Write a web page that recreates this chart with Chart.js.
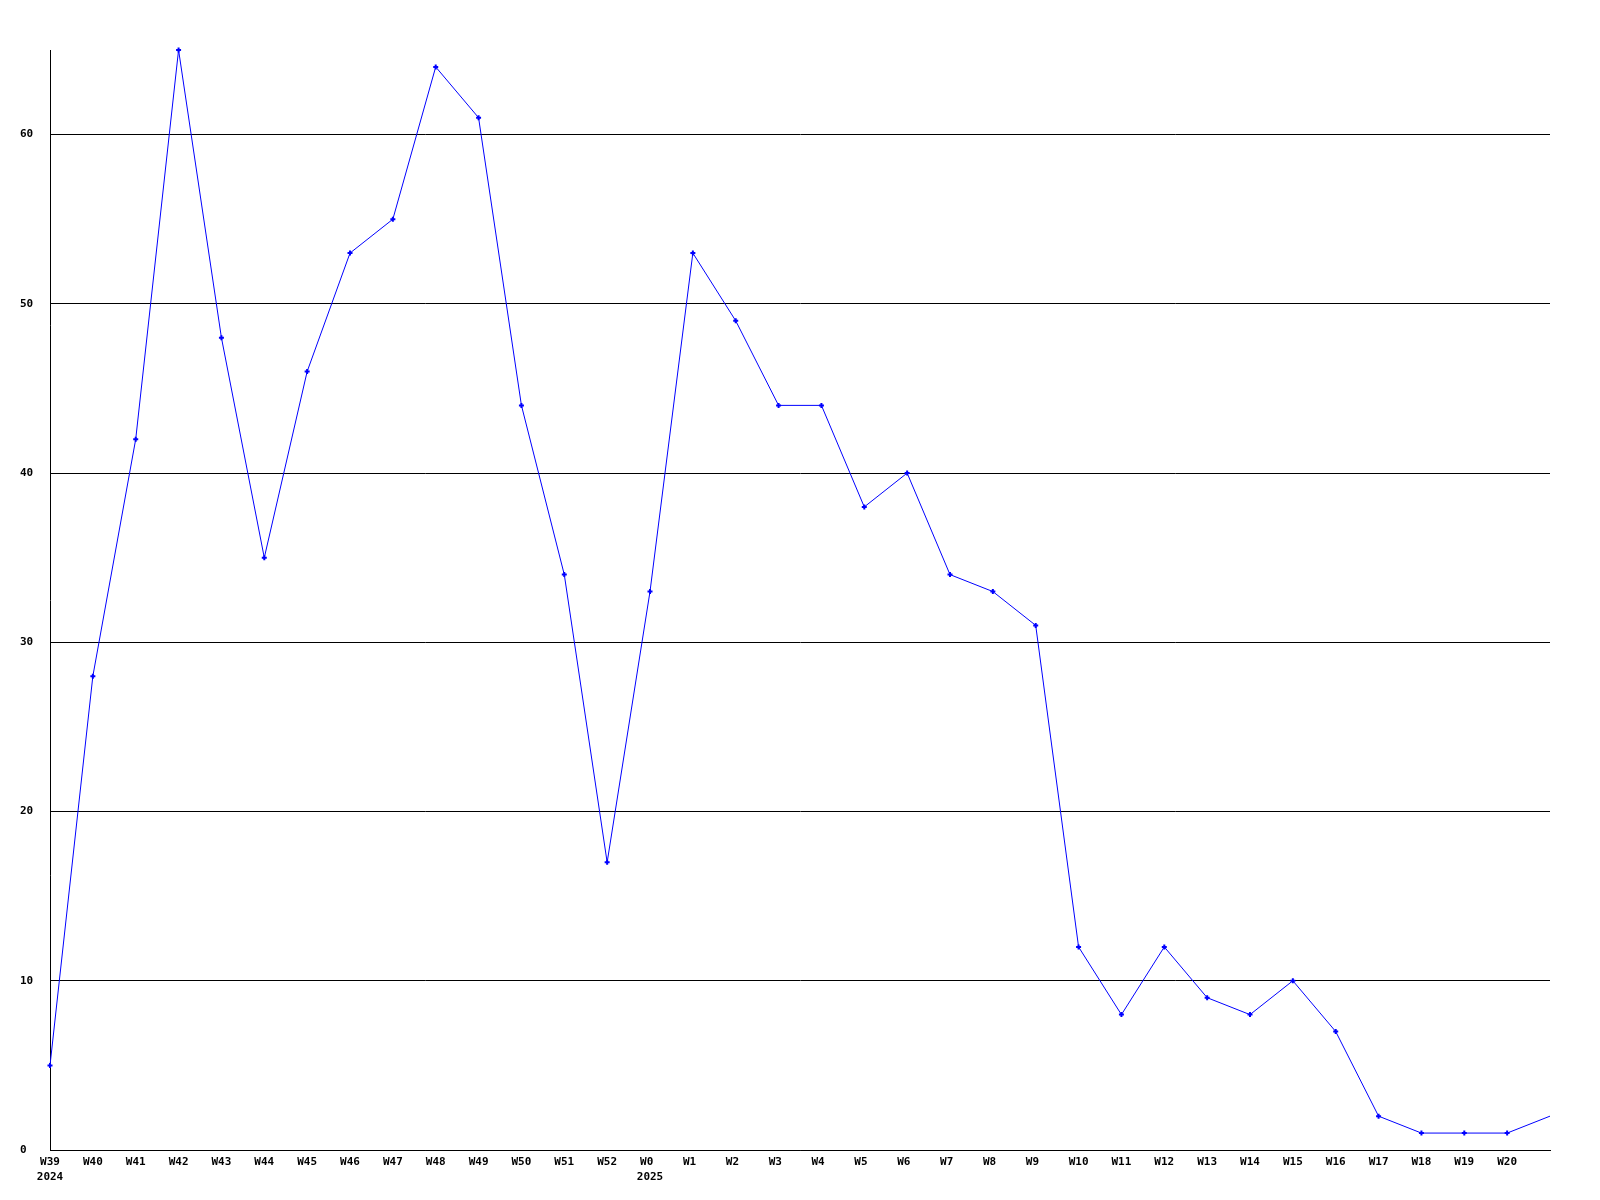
<!DOCTYPE html>
<html>
<head>
<meta charset="utf-8">
<script src="https://cdn.jsdelivr.net/npm/chart.js@4/dist/chart.umd.min.js"></script>
<style>
    html, body { margin: 0; padding: 0; background: #ffffff; }
    #chartBox { width: 1600px; height: 1200px; }
</style>
</head>
<body>
<div id="chartBox"><canvas id="weekChart" width="1600" height="1200"></canvas></div>
<script>
// weeks shown on the x axis (last one is unlabeled in the original)
const weeks = ['W39', 'W40', 'W41', 'W42', 'W43', 'W44', 'W45', 'W46', 'W47', 'W48', 'W49',
    'W50', 'W51', 'W52', 'W0', 'W1', 'W2', 'W3', 'W4', 'W5', 'W6', 'W7', 'W8', 'W9', 'W10',
    'W11', 'W12', 'W13', 'W14', 'W15', 'W16', 'W17', 'W18', 'W19', 'W20', ''];
// year shown under the first week of each year
const years = { 'W39': '2024', 'W0': '2025' };
const counts = [5, 28, 42, 65, 48, 35, 46, 53, 55, 64, 61,
    44, 34, 17, 33, 53, 49, 44, 44, 38, 40, 34, 33, 31, 12,
    8, 12, 9, 8, 10, 7, 2, 1, 1, 1, 2];
const yTicks = [0, 10, 20, 30, 40, 50, 60];
const yMax = 65;

const labelFont = { family: '"DejaVu Sans Mono", "Liberation Mono", monospace', size: 11, weight: 'bold', lineHeight: 1.4 };

function buildLabels() {
    return weeks.map(w => {
        const first = w.padEnd(3, ' ');
        return years[w] ? [first, years[w]] : first;
    });
}

const ctx = document.getElementById('weekChart');
const weekChart = new Chart(ctx, {
    type: 'line',
    data: {
        labels: buildLabels(),
        datasets: [{
            label: 'count',
            data: counts,
            borderColor: '#0000ff',
            backgroundColor: '#0000ff',
            borderWidth: 1,
            tension: 0,
            fill: false,
            clip: false,
            pointStyle: 'cross',
            pointRadius: (c) => (c.dataIndex === counts.length - 1 ? 0 : 2.5),
            pointBorderWidth: 2,
            pointBorderColor: '#0000ff',
            pointHoverRadius: 0
        }]
    },
    options: {
        responsive: false,
        animation: false,
        events: [],
        layout: {
            padding: { top: 50, right: 50, left: 20, bottom: 0 }
        },
        plugins: {
            legend: { display: false },
            title: { display: false },
            tooltip: { enabled: false }
        },
        scales: {
            x: {
                offset: false,
                grid: { display: false, drawTicks: false },
                border: { display: true, color: '#000000', width: 1 },
                ticks: {
                    color: '#000000',
                    font: labelFont,
                    padding: 4,
                    maxRotation: 0,
                    autoSkip: false
                },
                afterFit: (scale) => { scale.height = 50; }
            },
            y: {
                min: 0,
                max: yMax,
                afterBuildTicks: (scale) => {
                    scale.ticks = yTicks.map(v => ({ value: v }));
                },
                grid: {
                    color: '#000000',
                    lineWidth: 1,
                    drawTicks: false
                },
                border: { display: true, color: '#000000', width: 1 },
                ticks: {
                    color: '#000000',
                    font: { family: labelFont.family, size: 11, weight: 'bold' },
                    crossAlign: 'far',
                    padding: 0
                },
                afterFit: (scale) => { scale.width = 30; }
            }
        }
    }
});
</script>
</body>
</html>
